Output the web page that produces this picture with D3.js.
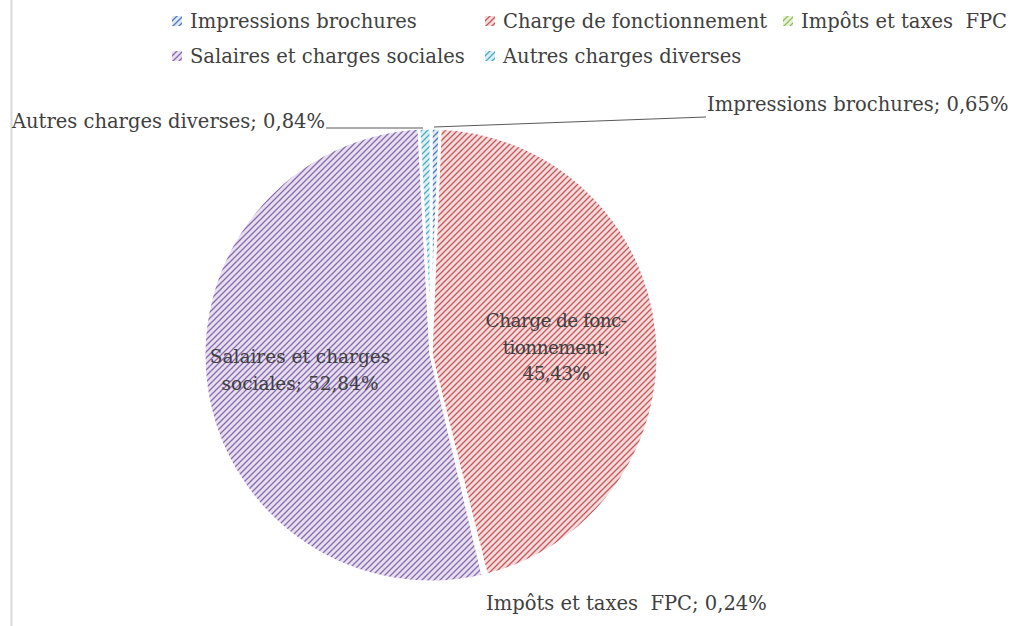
<!DOCTYPE html>
<html>
<head>
<meta charset="utf-8">
<script src="https://cdn.jsdelivr.net/npm/d3@7"></script>
<style>
  body { margin: 0; background: #fff; }
  svg text { font-family: "DejaVu Serif", "Liberation Serif", serif; fill: #404040; white-space: pre; }
</style>
</head>
<body>
<div id="chart"></div>
<script>
  var categories = ['Impressions brochures', 'Charge de fonctionnement', 'Impôts et taxes  FPC', 'Salaires et charges sociales', 'Autres charges diverses'];
  var values = [0.65, 45.43, 0.24, 52.84, 0.84];
  var lineColors = ['#4a7bc8', '#c9575a', '#8fbf52', '#8a6aaf', '#4bacc6'];
  var fillColors = ['#e1e9f6', '#f5dcdc', '#e9f1dc', '#e6dff0', '#dcf0f5'];

  var width = 1018, height = 626;
  var cx = 431, cy = 355, radius = 227;

  var svg = d3.select('#chart').append('svg')
    .attr('width', width)
    .attr('height', height);

  var defs = svg.append('defs');
  lineColors.forEach(function (c, i) {
    var p = defs.append('pattern')
      .attr('id', 'hatch' + i)
      .attr('patternUnits', 'userSpaceOnUse')
      .attr('width', 6)
      .attr('height', 6);
    p.append('rect').attr('width', 6).attr('height', 6).attr('fill', fillColors[i]);
    p.append('path')
      .attr('d', 'M-1,1 l2,-2 M0,6 l6,-6 M5,7 l2,-2')
      .attr('stroke', c)
      .attr('stroke-width', 1.3);
  });

  // left border of the chart area
  svg.append('line')
    .attr('x1', 11.5).attr('x2', 11.5)
    .attr('y1', 0).attr('y2', height)
    .attr('stroke', '#d9d9d9')
    .attr('stroke-width', 2);

  var pie = d3.pie().sort(null).value(function (d) { return d; });
  var arcs = pie(values);
  var arc = d3.arc().innerRadius(0).outerRadius(radius);

  var pieGroup = svg.append('g')
    .attr('transform', 'translate(' + cx + ',' + cy + ')');

  pieGroup.selectAll('.section')
    .data(arcs)
    .enter()
    .append('path')
    .classed('section', true)
    .attr('d', arc)
    .attr('fill', function (d, i) { return 'url(#hatch' + i + ')'; })
    .attr('stroke', '#fff')
    .attr('stroke-width', 3)
    .attr('stroke-linejoin', 'round');

  function pct(v) { return v.toFixed(2).replace('.', ',') + '%'; }

  // inside labels
  var insideLabels = [
    { i: 1, lines: ['Charge de fonc-', 'tionnement;', pct(values[1])], x: 556, y: 327, ls: '-0.6px' },
    { i: 3, lines: ['Salaires et charges', 'sociales; ' + pct(values[3])], x: 300, y: 363, ls: '0px' }
  ];
  insideLabels.forEach(function (l) {
    var t = svg.append('text')
      .attr('text-anchor', 'middle')
      .style('font-size', '18.5px')
      .style('letter-spacing', l.ls);
    l.lines.forEach(function (s, k) {
      t.append('tspan').attr('x', l.x).attr('y', l.y + k * 26.5).text(s);
    });
  });

  // outside labels with leader lines
  var outsideLabels = [
    { i: 0, x: 707, y: 111, anchor: 'start', line: [[434, 127], [706, 117]] },
    { i: 4, x: 325, y: 128, anchor: 'end', line: [[326, 128], [423, 128]] },
    { i: 2, x: 486, y: 610, anchor: 'start', line: null }
  ];
  outsideLabels.forEach(function (l) {
    svg.append('text')
      .attr('x', l.x)
      .attr('y', l.y)
      .attr('text-anchor', l.anchor)
      .style('font-size', '19.5px')
      .text(categories[l.i] + '; ' + pct(values[l.i]));
    if (l.line) {
      svg.append('path')
        .attr('d', d3.line()(l.line))
        .attr('fill', 'none')
        .attr('stroke', '#595959')
        .attr('stroke-width', 1);
    }
  });

  // legend
  var legendPos = [[172, 21], [485, 21], [783, 21], [172, 56], [485, 56]];
  var legend = svg.selectAll('.legend')
    .data(categories)
    .enter()
    .append('g')
    .classed('legend', true)
    .attr('transform', function (d, i) { return 'translate(' + legendPos[i][0] + ',' + legendPos[i][1] + ')'; });

  legend.append('rect')
    .attr('x', 0).attr('y', -5)
    .attr('width', 10).attr('height', 10)
    .attr('fill', function (d, i) { return 'url(#hatch' + i + ')'; });

  legend.append('text')
    .attr('x', 18)
    .attr('y', 7)
    .style('font-size', '19.5px')
    .text(function (d) { return d; });
</script>
</body>
</html>
